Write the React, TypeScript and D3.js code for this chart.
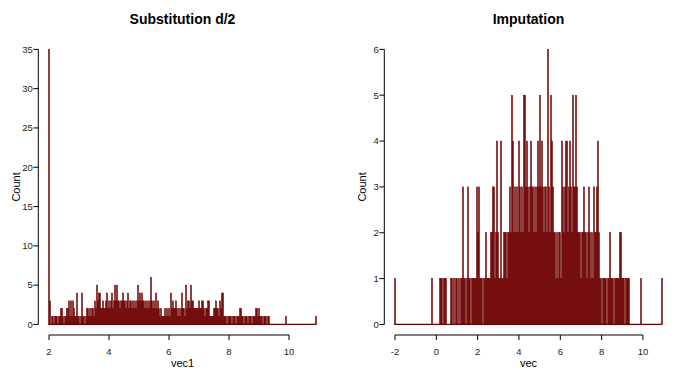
import * as d3 from 'd3';

// counts per bin (bin centres start at *Start, step *BinWidth)
const leftCounts = [
  35, 3, 0, 1, 1, 0, 1, 1, 1, 0, 1, 1, 2, 2, 1, 0, 1, 1, 2, 2,
  3, 1, 3, 1, 3, 2, 1, 1, 4, 1, 1, 0, 1, 4, 1, 1, 0, 1, 2, 2,
  1, 2, 1, 2, 2, 1, 3, 2, 5, 3, 4, 4, 2, 2, 3, 2, 2, 3, 4, 2,
  3, 2, 3, 4, 2, 3,
  5, 3, 5, 3, 3, 2, 3, 3, 4, 3, 3, 2, 3, 4, 2, 3, 3, 2, 3, 2,
  3, 2, 3, 5, 3, 4, 3, 4, 3, 3, 2, 3, 2, 3, 2, 3, 6, 3, 2, 3,
  2, 4, 2, 3, 2, 1, 2, 1, 1, 1, 2, 1, 2, 1, 2, 1, 4, 2, 3, 2,
  2, 3, 2, 1, 2, 1, 2, 4, 2, 2, 1,
  5, 2, 3, 3, 2, 5, 3, 3, 2, 2, 2, 2, 2, 3, 2, 2, 3, 3, 2, 1,
  2, 2, 3, 3, 1, 1, 1, 1, 2, 2, 3, 2, 2, 1, 3, 2, 4, 4, 1, 1,
  1, 0, 1, 1, 1, 1, 0, 1, 1, 1, 0, 1, 1, 1, 2, 2, 1, 1, 0, 1,
  1, 1, 0, 1, 1, 1, 0, 1, 1, 1,
  2, 2, 1, 2, 1, 1, 1, 0, 1, 1, 1, 0, 1, 1,
  0, 0, 0, 0, 0, 0, 0, 0, 0, 0, 0, 0, 0, 0, 0, 0,
  1,
  0, 0, 0, 0, 0, 0, 0, 0, 0, 0, 0, 0, 0, 0, 0, 0, 0, 0, 0, 0,
  0, 0, 0, 0, 0, 0, 0, 0, 0,
  1,
];
const leftStart = 2;
const leftBinWidth = 1 / 30;

const rightCounts = [
  1,
  0, 0, 0, 0, 0, 0, 0, 0, 0, 0, 0, 0, 0, 0, 0, 0, 0, 0, 0, 0,
  0, 0, 0, 0, 0, 0, 0, 0, 0, 0, 0, 0, 0, 0, 0, 0,
  1,
  0, 0, 0, 0, 0, 0, 0,
  1, 1, 1, 0, 1, 1, 1, 0, 0, 0,
  0, 1, 1, 0, 1, 0, 1, 1, 0, 1,
  0, 1, 1, 3, 1, 1, 0, 1, 3, 1,
  1, 0, 1, 1, 1, 1, 1, 3, 2, 3,
  1, 1, 1, 0, 1, 1, 2, 1, 1, 1,
  1, 2, 2, 3, 3, 1, 2, 4, 2, 1,
  1, 4, 1, 1, 2, 2, 2, 1, 2, 2,
  3, 2, 5, 4, 2, 3, 2, 3, 2, 4,
  3, 2, 3, 2, 5, 5, 3, 4, 3, 2,
  3, 4, 3, 3, 2, 3, 2, 3, 4, 3,
  5, 3, 4, 3, 2, 3, 3, 2, 6, 3,
  2, 5, 4, 3, 2, 2, 1, 2, 1, 2,
  2, 1, 4, 3, 2, 3, 4, 4, 2, 3,
  4, 3, 2, 5, 3, 3, 5, 3, 2, 2,
  2, 1, 2, 2, 3, 2, 2, 1, 2, 3,
  2, 1, 2, 1, 3, 2, 2, 3, 4, 2,
  1, 1, 0, 1, 1, 1, 1, 0, 1, 1,
  2, 1, 1, 1, 0, 1, 1, 1, 1, 1,
  2, 2, 1, 1, 1, 0, 1, 1, 1, 1,
  0, 0, 0, 0, 0, 0, 0, 0, 0, 0, 0,
  1,
  0, 0, 0, 0, 0, 0, 0, 0, 0, 0, 0, 0, 0, 0, 0, 0, 0, 0, 0, 0,
  1,
];
const rightStart = -2;
const rightBinWidth = 0.0484;

const leftXTicks = [2, 4, 6, 8, 10];
const leftYTicks = [0, 5, 10, 15, 20, 25, 30, 35];
const rightXTicks = [-2, 0, 2, 4, 6, 8, 10];
const rightYTicks = [0, 1, 2, 3, 4, 5, 6];

const RED = '#6c0000';
const FONT = '"Liberation Sans", Arial, Helvetica, sans-serif';

type PanelProps = {
  ox: number;
  title: string;
  xLabel: string;
  counts: number[];
  start: number;
  binWidth: number;
  xTicks: number[];
  yTicks: number[];
};

function Panel({ ox, title, xLabel, counts, start, binWidth, xTicks, yTicks }: PanelProps) {
  const panelL = ox + 35.65;
  const panelR = ox + 329.35;
  const panelT = 35.6;
  const panelB = 338.2;

  const xmin = start;
  const xmax = start + (counts.length - 1) * binWidth;
  const xpad = (xmax - xmin) * 0.05;
  const x = d3.scaleLinear().domain([xmin - xpad, xmax + xpad]).range([panelL, panelR]);

  const ymax = d3.max(yTicks) as number;
  const y = d3.scaleLinear().domain([-0.05 * ymax, 1.05 * ymax]).range([panelB, panelT]);

  const axisX = panelL + 2.65; // y axis line
  const axisY = panelB - 3.2; // x axis line
  const cx = (panelL + panelR) / 2;

  return (
    <g>
      <text x={cx} y={24} textAnchor="middle" fontSize={14} fontWeight="bold" fill="#000">
        {title}
      </text>

      {/* outline of the empty bins along zero */}
      <line
        x1={x(xmin - binWidth / 2)}
        x2={x(xmax + binWidth / 2)}
        y1={y(0)}
        y2={y(0)}
        stroke={RED}
        strokeWidth={1.2}
      />
      {counts.map((c, i) => {
        if (c === 0) return null;
        const mid = start + i * binWidth;
        const x0 = x(mid - binWidth / 2);
        const x1 = x(mid + binWidth / 2);
        return (
          <rect
            key={i}
            x={x0}
            y={y(c)}
            width={x1 - x0}
            height={y(0) - y(c)}
            fill={RED}
            stroke={RED}
            strokeWidth={0.5}
          />
        );
      })}

      {/* y axis */}
      <line x1={axisX} x2={axisX} y1={y(0)} y2={y(ymax)} stroke="#000" strokeWidth={1} />
      {yTicks.map((t) => (
        <g key={t}>
          <line x1={axisX - 5} x2={axisX} y1={y(t)} y2={y(t)} stroke="#000" strokeWidth={1} />
          <text x={axisX - 5.5} y={y(t)} dy="0.35em" textAnchor="end" fontSize={9.5} fill="#222">
            {t}
          </text>
        </g>
      ))}
      <text
        transform={`translate(${ox + 19.5},${(y(0) + y(ymax)) / 2}) rotate(-90)`}
        textAnchor="middle"
        fontSize={11}
        fill="#000"
      >
        Count
      </text>

      {/* x axis */}
      <line
        x1={x(xTicks[0])}
        x2={x(xTicks[xTicks.length - 1])}
        y1={axisY}
        y2={axisY}
        stroke="#000"
        strokeWidth={1}
      />
      {xTicks.map((t) => (
        <g key={t}>
          <line x1={x(t)} x2={x(t)} y1={axisY} y2={axisY + 5} stroke="#000" strokeWidth={1} />
          <text x={x(t)} y={355} textAnchor="middle" fontSize={9.5} fill="#222">
            {t}
          </text>
        </g>
      ))}
      <text x={cx} y={366.5} textAnchor="middle" fontSize={11} fill="#000">
        {xLabel}
      </text>
    </g>
  );
}

export default function App() {
  return (
    <svg
      width={692}
      height={374}
      style={{ position: 'absolute', left: 0, top: 0, background: '#fff' }}
      fontFamily={FONT}
    >
      <Panel
        ox={0}
        title="Substitution d/2"
        xLabel="vec1"
        counts={leftCounts}
        start={leftStart}
        binWidth={leftBinWidth}
        xTicks={leftXTicks}
        yTicks={leftYTicks}
      />
      <Panel
        ox={346}
        title="Imputation"
        xLabel="vec"
        counts={rightCounts}
        start={rightStart}
        binWidth={rightBinWidth}
        xTicks={rightXTicks}
        yTicks={rightYTicks}
      />
    </svg>
  );
}
